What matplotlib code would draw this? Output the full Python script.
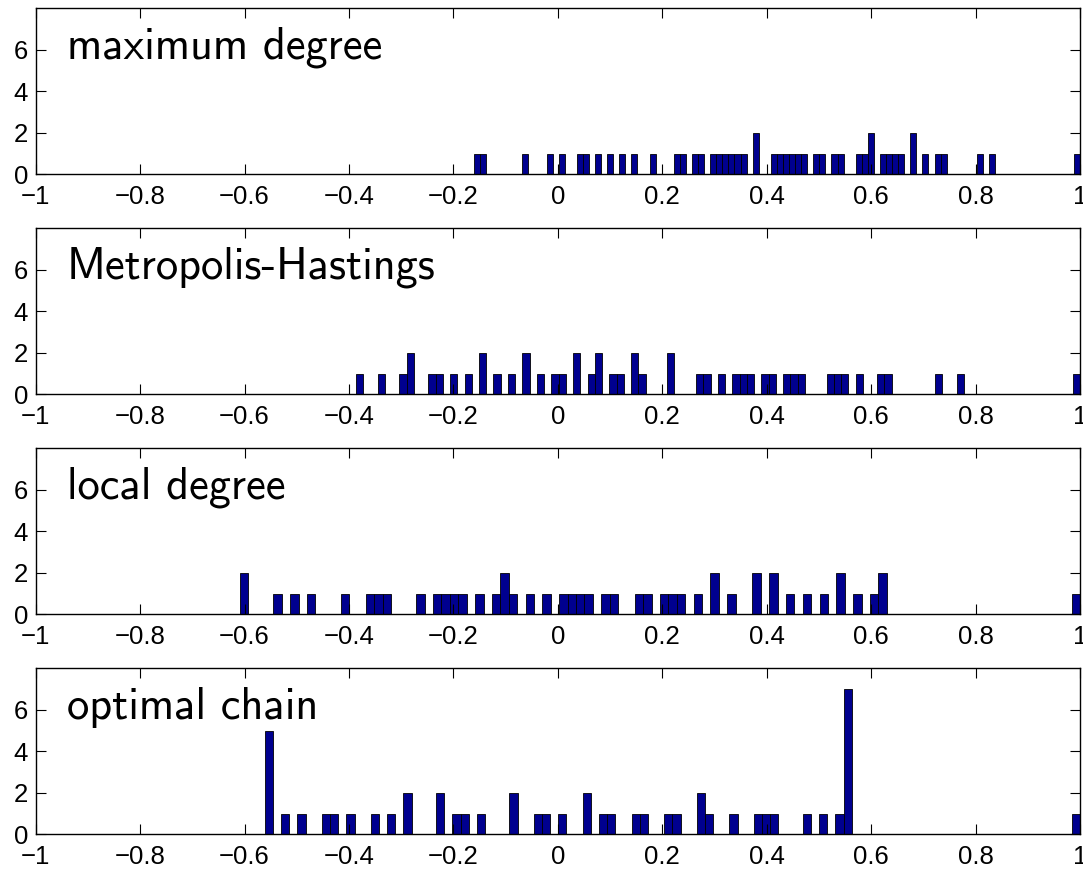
import numpy as np
import matplotlib
matplotlib.use('Agg')
import matplotlib.pyplot as plt

titles = ['maximum degree', 'Metropolis-Hastings', 'local degree', 'optimal chain']

eig_max_degree = [-0.161, -0.1436, -0.0623, -0.0159, 0.0073, 0.0422, 0.0538, 0.0770, 0.1002,
                  0.1234, 0.1467, 0.1815, 0.2279, 0.2395, 0.2628, 0.2744, 0.2976, 0.3092,
                  0.3208, 0.3324, 0.3440, 0.3556, 0.3789, 0.3789, 0.4137, 0.4253, 0.4369,
                  0.4485, 0.4601, 0.4717, 0.4950, 0.5066, 0.5298, 0.5414, 0.5762, 0.5878,
                  0.5995, 0.5995, 0.6227, 0.6343, 0.6459, 0.6575, 0.6807, 0.6807, 0.7039,
                  0.7272, 0.7388, 0.8084, 0.8317, 1.0]

eig_metropolis = [-0.3868, -0.3383, -0.2967, -0.2828, -0.2828, -0.2412, -0.2273, -0.1996,
                  -0.1718, -0.1441, -0.1441, -0.1164, -0.0886, -0.0609, -0.0609, -0.0332,
                  -0.0054, 0.0084, 0.0362, 0.0362, 0.0639, 0.0778, 0.0778, 0.1055, 0.1194,
                  0.1471, 0.1471, 0.1610, 0.2164, 0.2164, 0.2719, 0.2858, 0.3135, 0.3413,
                  0.3551, 0.3690, 0.3967, 0.4106, 0.4383, 0.4522, 0.4661, 0.5215, 0.5354,
                  0.5493, 0.5770, 0.6186, 0.6325, 0.7296, 0.7711, 1.0]

eig_local = [-0.609, -0.601, -0.5366, -0.5044, -0.4722, -0.4079, -0.3596, -0.3435, -0.3274,
             -0.2631, -0.2309, -0.2148, -0.1987, -0.1826, -0.1504, -0.1183, -0.1022, -0.1022,
             -0.0861, -0.0539, -0.0217, 0.0104, 0.0265, 0.0426, 0.0587, 0.0909, 0.1070,
             0.1553, 0.1714, 0.2036, 0.2196, 0.2357, 0.2679, 0.3001, 0.3001, 0.3323, 0.3805,
             0.3805, 0.4127, 0.4127, 0.4449, 0.4771, 0.5093, 0.5414, 0.5414, 0.5736, 0.6058,
             0.6219, 0.6219, 1.0]

eig_optimal = [-0.5611, -0.5533, -0.5533, -0.5533, -0.5533, -0.5221, -0.4908, -0.4440,
               -0.4284, -0.3972, -0.3504, -0.3191, -0.2879, -0.2879, -0.2255, -0.2255,
               -0.1942, -0.1786, -0.1474, -0.0850, -0.0850, -0.0381, -0.0225, 0.0087,
               0.0555, 0.0555, 0.0868, 0.1024, 0.1492, 0.1648, 0.2116, 0.2273, 0.2741,
               0.2741, 0.2897, 0.3365, 0.3834, 0.3990, 0.4146, 0.4770, 0.5082, 0.5395,
               0.5551, 0.5551, 0.5551, 0.5551, 0.5551, 0.5551, 0.5551, 1.0]

xtick_values = [-1, -0.8, -0.6, -0.4, -0.2, 0, 0.2, 0.4, 0.6, 0.8, 1]
xtick_labels = ['\u22121', '\u22120.8', '\u22120.6', '\u22120.4', '\u22120.2', '0',
                '0.2', '0.4', '0.6', '0.8', '1']
ytick_values = [0, 2, 4, 6]
ytick_labels = ['0', '2', '4', '6']

series = [eig_max_degree, eig_metropolis, eig_local, eig_optimal]

W, H = 1083, 872
fig = plt.figure(figsize=(W / 100, H / 100), dpi=100)

left = 35.7 / W
width = (1080 - 35.7) / W
axis_bottom_px = [174.3, 394.3, 614.3, 834.3]
panel_h_px = 166.0

bar_color = '#00008F'
tick_font = 'Liberation Sans'

for title, eig, yb in zip(titles, series, axis_bottom_px):
    ax = fig.add_axes([left, 1 - yb / H, width, panel_h_px / H])
    ax.hist(eig, bins=100, color=bar_color, edgecolor='black', linewidth=0.6)
    ax.set_xlim(-1, 1)
    ax.set_ylim(0, 8)
    ax.set_xticks(xtick_values)
    ax.set_xticklabels(xtick_labels, fontfamily=tick_font, fontsize=18.5)
    ax.set_yticks(ytick_values)
    ax.set_yticklabels(ytick_labels, fontfamily=tick_font, fontsize=18.5)
    ax.tick_params(axis='both', direction='in', top=True, right=True,
                   length=7.2, width=0.8, color='black')
    ax.tick_params(axis='x', pad=7.5)
    ax.tick_params(axis='y', pad=5.5)
    for sp in ax.spines.values():
        sp.set_linewidth(1.0)
        sp.set_color('black')
    ax.text(-0.94, 5.56, title, fontsize=32, family=['cmss10', 'DejaVu Sans'],
            ha='left', va='baseline', color='black')

fig.savefig('out.png', dpi=100)
